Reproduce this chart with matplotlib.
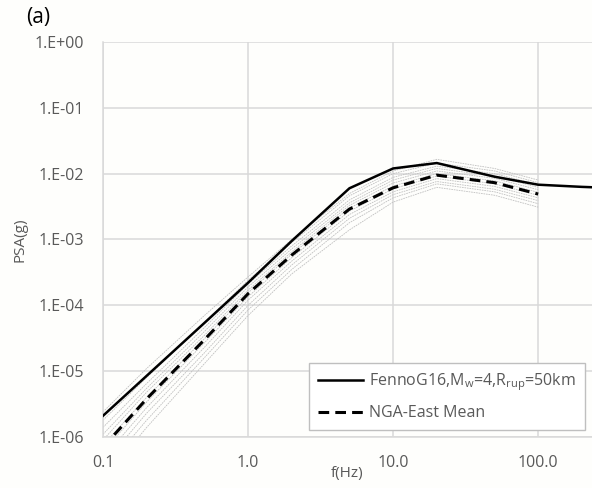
import matplotlib
matplotlib.use("Agg")
import matplotlib.pyplot as plt

# Frequências (Hz)
freq_fenno = [0.1, 0.2, 0.5, 1, 2, 5, 10, 20, 50, 100, 200, 300]
psa_fenno = [2.1e-6, 8.5e-6, 5.4e-5, 2.2e-4, 9.5e-4, 6.0e-3, 1.2e-2, 1.45e-2, 9.0e-3, 6.8e-3, 6.3e-3, 6.1e-3]

freq_nga = [0.1, 0.2, 0.5, 1, 2, 5, 10, 20, 50, 100]
psa_nga_mean = [7.0e-7, 3.8e-6, 3.0e-5, 1.5e-4, 5.8e-4, 2.9e-3, 6.1e-3, 9.5e-3, 7.3e-3, 4.9e-3]

# Modelos individuais NGA-East (linhas cinzas)
nga_models = [
    [2.4e-6, 1.1e-5, 7.0e-5, 2.7e-4, 1.0e-3, 5.0e-3, 1.1e-2, 1.65e-2, 1.2e-2, 8.0e-3],
    [1.8e-6, 8.0e-6, 5.5e-5, 2.4e-4, 9.0e-4, 4.6e-3, 1.0e-2, 1.45e-2, 1.1e-2, 7.3e-3],
    [1.4e-6, 6.5e-6, 4.6e-5, 2.1e-4, 8.0e-4, 4.0e-3, 8.8e-3, 1.3e-2, 1.0e-2, 6.8e-3],
    [1.1e-6, 5.5e-6, 4.0e-5, 1.9e-4, 7.2e-4, 3.6e-3, 8.0e-3, 1.2e-2, 9.2e-3, 6.2e-3],
    [9.0e-7, 4.8e-6, 3.5e-5, 1.7e-4, 6.5e-4, 3.3e-3, 7.2e-3, 1.1e-2, 8.5e-3, 5.7e-3],
    [7.5e-7, 4.0e-6, 3.1e-5, 1.55e-4, 6.0e-4, 3.0e-3, 6.5e-3, 1.0e-2, 7.8e-3, 5.2e-3],
    [6.0e-7, 3.4e-6, 2.7e-5, 1.35e-4, 5.3e-4, 2.7e-3, 5.9e-3, 9.2e-3, 7.0e-3, 4.7e-3],
    [4.8e-7, 2.8e-6, 2.3e-5, 1.2e-4, 4.7e-4, 2.4e-3, 5.3e-3, 8.4e-3, 6.4e-3, 4.3e-3],
    [3.8e-7, 2.3e-6, 1.9e-5, 1.0e-4, 4.1e-4, 2.1e-3, 4.8e-3, 7.6e-3, 5.8e-3, 3.9e-3],
    [3.0e-7, 1.8e-6, 1.6e-5, 8.5e-5, 3.5e-4, 1.8e-3, 4.3e-3, 7.0e-3, 5.3e-3, 3.5e-3],
    [2.2e-7, 1.4e-6, 1.3e-5, 7.0e-5, 3.0e-4, 1.4e-3, 3.7e-3, 6.2e-3, 4.7e-3, 3.1e-3],
]

x_ticks = [0.1, 1, 10, 100]
x_labels = ["0.1", "1.0", "10.0", "100.0"]
y_ticks = [1e-6, 1e-5, 1e-4, 1e-3, 1e-2, 1e-1, 1e0]
y_labels = ["1.E-06", "1.E-05", "1.E-04", "1.E-03", "1.E-02", "1.E-01", "1.E+00"]

plt.rcParams["font.family"] = ["Open Sans", "DejaVu Sans"]
plt.rcParams["mathtext.default"] = "regular"
texto = "#595959"
grade = "#d9d9d9"

fig = plt.figure(figsize=(5.92, 4.88), dpi=100, facecolor="#fefefc")
ax = fig.add_axes([103 / 592, 1 - 437 / 488, 1 - 103 / 592, (437 - 42) / 488])
ax.set_facecolor("#fefefc")

for m in nga_models:
    ax.plot(freq_nga, m, color="#c0c0c0", lw=0.6, linestyle=(0, (2, 1)), zorder=2)

ax.plot(freq_fenno, psa_fenno, color="black", lw=1.8, zorder=4,
        label="FennoG16,M$_{w}$=4,R$_{rup}$=50km")
ax.plot(freq_nga, psa_nga_mean, color="black", lw=2.2, linestyle=(0, (3.5, 2)), zorder=3,
        label="NGA-East Mean")

ax.set_xscale("log")
ax.set_yscale("log")
ax.set_xlim(0.1, 235)
ax.set_ylim(1e-6, 1)
ax.set_xticks(x_ticks)
ax.set_xticklabels(x_labels)
ax.set_yticks(y_ticks)
ax.set_yticklabels(y_labels)
ax.minorticks_off()
ax.tick_params(length=0, labelsize=11.5, labelcolor=texto)
ax.tick_params(axis="x", pad=13)
ax.tick_params(axis="y", pad=14)
ax.grid(True, color=grade, lw=1.1)
for s in ["top", "right"]:
    ax.spines[s].set_visible(False)
for s in ["left", "bottom"]:
    ax.spines[s].set_color(grade)
    ax.spines[s].set_linewidth(1.1)

ax.set_xlabel("f(Hz)", fontsize=11, color=texto, labelpad=-4)
ax.set_ylabel("PSA(g)", fontsize=11, color=texto, labelpad=5)

fig.text(26 / 592, 1 - 18 / 488, "(a)", fontsize=15, color="black", va="center")

leg = ax.legend(loc="lower right", bbox_to_anchor=(585 / 592, 1 - 430 / 488),
                bbox_transform=fig.transFigure, borderaxespad=0, fontsize=11.5,
                handlelength=2.8, labelspacing=0.75, borderpad=0.55, fancybox=False,
                framealpha=1, edgecolor="#bfbfbf", labelcolor=texto, handletextpad=0.4)
leg.get_frame().set_linewidth(1.0)
leg.set_zorder(5)

fig.savefig("out.png", dpi=100, facecolor=fig.get_facecolor())
